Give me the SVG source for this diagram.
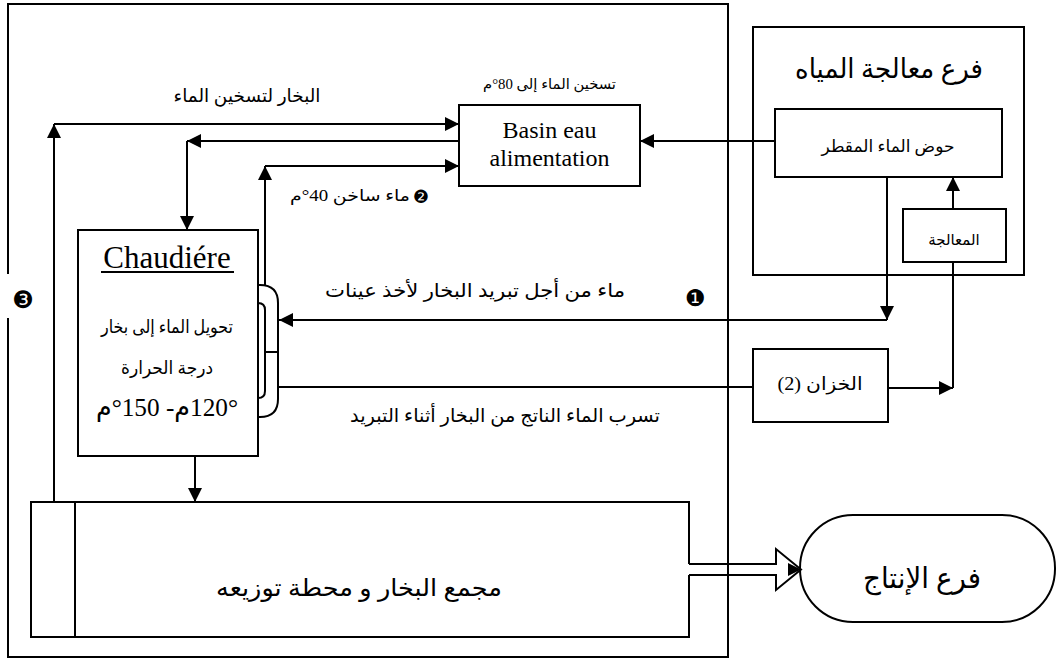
<svg xmlns="http://www.w3.org/2000/svg" width="1061" height="660" viewBox="0 0 1061 660">
<style>
.box{fill:#fff;stroke:#000;stroke-width:2}
.ln{fill:none;stroke:#000;stroke-width:2}
.ar{fill:none;stroke:#000;stroke-width:2;marker-end:url(#ah)}
.lat{fill:#000;text-anchor:middle;font-family:"Liberation Serif",serif}
.t{fill:#000;text-anchor:middle;direction:rtl;unicode-bidi:embed;font-family:"Liberation Serif","DejaVu Sans",serif}
.num{fill:#000;text-anchor:middle;font-family:"DejaVu Sans",sans-serif}
</style>
<defs>
<marker id="ah" viewBox="0 0 14 14" refX="14" refY="7" markerWidth="14" markerHeight="14" markerUnits="userSpaceOnUse" orient="auto"><path d="M0,0 L14,7 L0,14 z" fill="#000"/></marker>
</defs>
<rect width="1061" height="660" fill="#fff"/>
<g id="frame">
<path class="ln" stroke-width="1.5" d="M8,318 V657 H728 V4 H8 V274"/>
</g>
<g id="water-branch">
<rect class="box" x="753" y="27" width="271" height="248"/>
<text class="t" x="889" y="78" font-size="27" textLength="188" lengthAdjust="spacingAndGlyphs">فرع معالجة المياه</text>
</g>
<g id="distilled-basin">
<rect class="box" x="775" y="109" width="227" height="68"/>
<text class="t" x="888" y="152" font-size="17">حوض الماء المقطر</text>
</g>
<g id="treatment">
<rect class="box" x="903" y="209" width="103" height="53"/>
<text class="t" x="954" y="245" font-size="15">المعالجة</text>
</g>
<g id="tank">
<rect class="box" x="753" y="349" width="135" height="73"/>
<text class="t" x="820" y="390" font-size="18" textLength="85" lengthAdjust="spacingAndGlyphs">الخزان (2)</text>
</g>
<g id="basin">
<rect class="box" x="459" y="105" width="181" height="81"/>
<text class="lat" x="549.5" y="138" font-size="24">Basin eau</text>
<text class="lat" x="549.5" y="166" font-size="24">alimentation</text>
</g>
<g id="boiler">
<rect class="box" x="78" y="230" width="180" height="226"/>
<text class="lat" x="167" y="268" font-size="31">Chaudiére</text>
<line class="ln" x1="101" y1="272" x2="234" y2="272"/>
<text class="t" x="167" y="333" font-size="18" textLength="132" lengthAdjust="spacingAndGlyphs">تحويل الماء إلى بخار</text>
<text class="t" x="167" y="374" font-size="18" textLength="92" lengthAdjust="spacingAndGlyphs">درجة الحرارة</text>
<text class="t" x="167" y="416" font-size="26" textLength="142" lengthAdjust="spacingAndGlyphs">120°م- 150°م</text>
<path class="ln" d="M258,285 L260,285 Q278,285 278,303 L278,399 Q278,417 260,417 L258,417"/>
<path class="ln" d="M258,303 Q265,303 265,310 L265,391 Q265,398 258,398"/>
<line class="ln" x1="265" y1="352" x2="278" y2="352"/>
</g>
<g id="collector">
<path class="box" d="M689,564 V502 H31 V637 H689 V575"/>
<line class="ln" x1="75" y1="502" x2="75" y2="637"/>
<text class="t" x="359" y="596" font-size="24" textLength="286" lengthAdjust="spacingAndGlyphs">مجمع البخار و محطة توزيعه</text>
</g>
<g id="production">
<rect class="box" x="800" y="515" width="255" height="107" rx="53" ry="53"/>
<text class="t" x="922" y="588" font-size="29" textLength="118" lengthAdjust="spacingAndGlyphs">فرع الإنتاج</text>
</g>
<g id="connectors">
<line class="ar" x1="54" y1="502" x2="54" y2="124"/>
<line class="ar" x1="54" y1="124" x2="459" y2="124"/>
<line class="ar" x1="459" y1="141" x2="187" y2="141"/>
<line class="ar" x1="187" y1="141" x2="187" y2="230"/>
<line class="ar" x1="265" y1="286" x2="265" y2="166"/>
<line class="ar" x1="265" y1="166" x2="459" y2="166"/>
<line class="ar" x1="775" y1="141" x2="640" y2="141"/>
<line class="ar" x1="953" y1="209" x2="953" y2="177"/>
<line class="ar" x1="887" y1="177" x2="887" y2="320"/>
<line class="ar" x1="887" y1="320" x2="279" y2="320"/>
<line class="ln" x1="278" y1="387" x2="753" y2="387"/>
<line class="ln" x1="953" y1="262" x2="953" y2="388"/>
<line class="ar" x1="888" y1="388" x2="953" y2="388"/>
<line class="ar" x1="195" y1="456" x2="195" y2="502"/>
<path class="ln" d="M689,564 H776 V549 L801,569.5 L776,590 V575 H689"/>
<path d="M788,563 L801,569.5 L788,576 z" fill="#000"/>
</g>
<g id="labels">
<text class="t" x="247" y="102" font-size="18" textLength="147" lengthAdjust="spacingAndGlyphs">البخار لتسخين الماء</text>
<text class="t" x="549.5" y="89" font-size="14" textLength="133" lengthAdjust="spacingAndGlyphs">تسخين الماء إلى 80°م</text>
<text class="t" x="350" y="201" font-size="16" textLength="120" lengthAdjust="spacingAndGlyphs">ماء ساخن 40°م</text>
<text class="num" x="421" y="203" font-size="18">❷</text>
<text class="t" x="475" y="297" font-size="19" textLength="300" lengthAdjust="spacingAndGlyphs">ماء من أجل تبريد البخار لأخذ عينات</text>
<text class="num" x="695" y="306" font-size="23">❶</text>
<text class="t" x="505" y="422" font-size="19" textLength="310" lengthAdjust="spacingAndGlyphs">تسرب الماء الناتج من البخار أثناء التبريد</text>
<text class="num" x="23" y="308" font-size="24">❸</text>
</g>
</svg>
